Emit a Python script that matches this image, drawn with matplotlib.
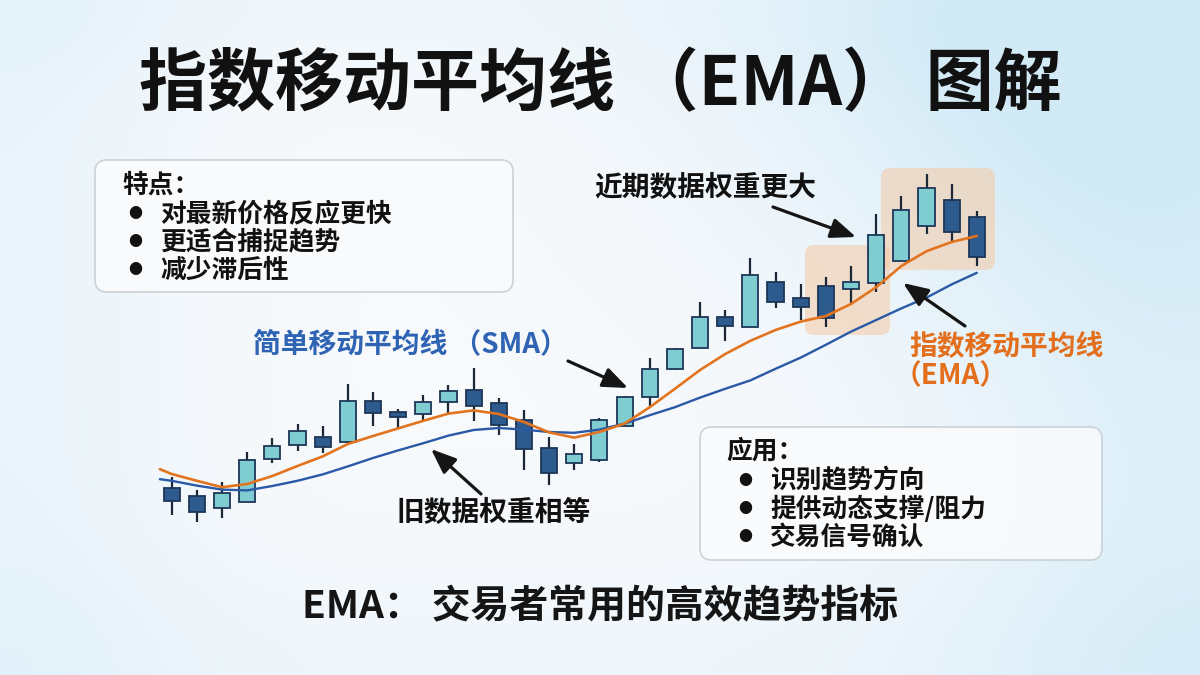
import numpy as np
import matplotlib
matplotlib.use("Agg")
import matplotlib.pyplot as plt
from matplotlib.patches import FancyBboxPatch

plt.rcParams['font.family'] = ['Noto Sans CJK SC', 'DejaVu Sans']

# ---------------- data ----------------
candle_open  = [18.1, 16.0, 12.9, 14.6, 25.2, 28.8, 30.8, 29.6, 39.8, 36.9, 36.5, 39.6, 42.5,
                39.2, 35.0, 27.9, 24.2, 25.0, 33.5, 40.8, 47.7, 52.9, 60.8, 58.3, 69.6, 65.4,
                68.5, 67.7, 69.3, 74.8, 83.5, 90.0, 85.8]
candle_high  = [20.8, 17.5, 19.6, 27.0, 30.5, 34.0, 33.6, 44.0, 41.9, 37.8, 41.2, 43.8, 47.9,
                40.4, 37.5, 30.7, 29.0, 35.4, 41.1, 50.4, 52.9, 64.6, 62.5, 75.4, 71.9, 68.9,
                70.7, 73.5, 86.4, 91.0, 96.5, 94.0, 87.3]
candle_low   = [11.2, 9.5, 10.5, 14.6, 24.2, 27.2, 26.7, 29.3, 33.6, 33.1, 34.6, 36.7, 34.8,
                31.2, 22.5, 18.8, 22.5, 24.6, 33.5, 38.5, 47.5, 52.9, 54.8, 58.2, 62.9, 60.0,
                58.2, 64.3, 67.1, 74.8, 81.4, 79.6, 73.5]
candle_close = [14.8, 12.1, 16.7, 25.0, 28.5, 32.2, 28.3, 39.8, 36.7, 35.7, 39.6, 42.3, 38.5,
                33.8, 27.7, 21.7, 26.4, 35.0, 40.8, 47.8, 52.8, 60.8, 58.5, 71.2, 64.4, 63.2,
                60.4, 69.6, 81.2, 87.5, 92.9, 82.1, 75.8]

ma_index = [-0.47] + list(range(33))
ema_values = [22.7, 21.5, 19.8, 18.2, 19.0, 21.0, 23.5, 25.9, 29.0, 31.0, 32.9, 34.8, 36.6,
              37.4, 36.5, 34.5, 31.9, 30.6, 32.0, 34.1, 38.2, 42.8, 47.5, 51.5, 54.8, 57.5,
              59.6, 61.0, 64.0, 68.2, 73.5, 77.2, 79.5, 81.0]
sma_values = [20.2, 19.8, 18.6, 17.6, 17.4, 18.5, 19.8, 21.4, 23.4, 25.5, 27.4, 29.2, 31.1,
              32.5, 33.0, 32.6, 32.0, 31.8, 32.6, 34.1, 36.2, 38.2, 40.6, 42.8, 44.9, 47.8,
              50.6, 53.8, 57.1, 60.0, 62.9, 65.6, 68.9, 71.8]

title_text = "指数移动平均线 （EMA） 图解"
features_head = "特点："
features = ["对最新价格反应更快", "更适合捕捉趋势", "减少滞后性"]
uses_head = "应用："
uses = ["识别趋势方向", "提供动态支撑/阻力", "交易信号确认"]
sma_label = "简单移动平均线 （SMA）"
ema_label_1 = "指数移动平均线"
ema_label_2 = "（EMA）"
recent_label = "近期数据权重更大"
old_label = "旧数据权重相等"
footer_text = "EMA： 交易者常用的高效趋势指标"

# ---------------- figure ----------------
W, H = 1200, 675
fig = plt.figure(figsize=(12, 6.75), dpi=100)

# background axes in pixel coordinates
ax_bg = fig.add_axes([0, 0, 1, 1], zorder=0)
ax_bg.set_xlim(0, W)
ax_bg.set_ylim(H, 0)
ax_bg.axis('off')

yy, xx = np.mgrid[0:H, 0:W]
base = np.array([0.970, 0.978, 0.988])
tint = np.array([0.80, 0.91, 0.965])
w = (0.55 * np.exp(-((W - xx) / 260.0) ** 2)
     + 0.55 * np.exp(-(((xx - 1020) / 320.0) ** 2 + ((yy - 60) / 230.0) ** 2))
     + 0.30 * np.exp(-(xx / 180.0) ** 2)
     + 0.18 * np.exp(-((H - yy) / 120.0) ** 2)
     + 0.15 * np.exp(-(yy / 90.0) ** 2))
w = np.clip(w, 0, 0.85)[..., None]
bg = base * (1 - w) + tint * w
ax_bg.imshow(bg, extent=[0, W, H, 0], aspect='auto', zorder=0)

px = ax_bg.transData

# info boxes
for (x0, y0, x1, y1) in [(95, 160, 513, 292), (700, 427, 1102, 560)]:
    ax_bg.add_patch(FancyBboxPatch((x0, y0), x1 - x0, y1 - y0,
                                   boxstyle="round,pad=0,rounding_size=12",
                                   facecolor='#fafbfc', edgecolor='#c9ced4',
                                   linewidth=1.3, alpha=0.85, zorder=2))

# ---------------- chart axes ----------------
X0_PX, DX_PX = 171.7, 25.16
left_px = X0_PX - DX_PX
right_px = X0_PX + 33 * DX_PX
ax = fig.add_axes([left_px / W, (H - 560) / H, (right_px - left_px) / W, 400 / H], zorder=1)
ax.set_xlim(-1, 33)
ax.set_ylim(0, 100)
ax.patch.set_alpha(0)
ax.axis('off')

# highlight boxes for recent candles (pixel layout)
for (x0, y0, x1, y1) in [(805, 245, 890, 335), (881, 168, 995, 270)]:
    ax.add_patch(FancyBboxPatch((x0, y0), x1 - x0, y1 - y0,
                                boxstyle="round,pad=0,rounding_size=9",
                                facecolor='#f5c9a4', edgecolor='none', alpha=0.55,
                                transform=px, zorder=1))

idx = np.arange(len(candle_open))
o = np.array(candle_open); c = np.array(candle_close)
hi = np.array(candle_high); lo = np.array(candle_low)
up = c >= o
light_fill, dark_fill, edge = '#7fcdd1', '#2e5b8d', '#1d3658'

ax.vlines(idx, lo, hi, color='#1b2736', linewidth=1.6, zorder=3)
ax.bar(idx[up], (c - o)[up], bottom=o[up], width=0.64, color=light_fill,
       edgecolor=edge, linewidth=1.3, zorder=4)
ax.bar(idx[~up], (o - c)[~up], bottom=c[~up], width=0.64, color=dark_fill,
       edgecolor=edge, linewidth=1.3, zorder=4)

ax.plot(ma_index, sma_values, color='#2a59a6', linewidth=1.7, zorder=5,
        solid_capstyle='round', solid_joinstyle='round')
ax.plot(ma_index, ema_values, color='#e2741f', linewidth=1.9, zorder=6,
        solid_capstyle='round', solid_joinstyle='round')

# ---------------- overlay: text & arrows ----------------
ax_ov = fig.add_axes([0, 0, 1, 1], zorder=2)
ax_ov.set_xlim(0, W)
ax_ov.set_ylim(H, 0)
ax_ov.patch.set_alpha(0)
ax_ov.axis('off')

ax_ov.text(600, 86, title_text, ha='center', va='center', fontsize=49,
           fontweight='heavy', color='#111111')

body_fs = 18.5
ax_ov.text(122, 185, features_head, ha='left', va='center', fontsize=body_fs,
           fontweight='bold', color='#111111')
for yv, s in zip([214, 242, 270], features):
    ax_ov.text(135, yv, "●", ha='center', va='center', fontsize=10, color='#111111')
    ax_ov.text(160, yv, s, ha='left', va='center', fontsize=body_fs, fontweight='bold',
               color='#111111')

ax_ov.text(726, 451, uses_head, ha='left', va='center', fontsize=body_fs,
           fontweight='bold', color='#111111')
for yv, s in zip([481, 509, 537], uses):
    ax_ov.text(745, yv, "●", ha='center', va='center', fontsize=10, color='#111111')
    ax_ov.text(770, yv, s, ha='left', va='center', fontsize=body_fs, fontweight='bold',
               color='#111111')

ax_ov.text(410, 344, sma_label, ha='center', va='center', fontsize=20,
           fontweight='bold', color='#2f63b3')
ax_ov.text(1006, 347, ema_label_1, ha='center', va='center', fontsize=20,
           fontweight='bold', color='#e36f1c')
ax_ov.text(951, 376, ema_label_2, ha='center', va='center', fontsize=20,
           fontweight='bold', color='#e36f1c')
ax_ov.text(705, 188, recent_label, ha='center', va='center', fontsize=20,
           fontweight='bold', color='#111111')
ax_ov.text(494, 513, old_label, ha='center', va='center', fontsize=20,
           fontweight='bold', color='#111111')
ax_ov.text(600, 607, footer_text, ha='center', va='center', fontsize=28,
           fontweight='bold', color='#151515')

arrow_kw = dict(arrowstyle='-|>,head_length=0.95,head_width=0.38', lw=2.3,
                color='#151515', mutation_scale=16, shrinkA=0, shrinkB=0)
for tail, tip in [((773, 207), (856, 237)),
                  ((965, 326), (903, 283)),
                  ((568, 361), (628, 388)),
                  ((481, 494), (431, 449))]:
    ax_ov.annotate('', xy=tip, xytext=tail, arrowprops=arrow_kw)

fig.savefig('out.png', dpi=100)
